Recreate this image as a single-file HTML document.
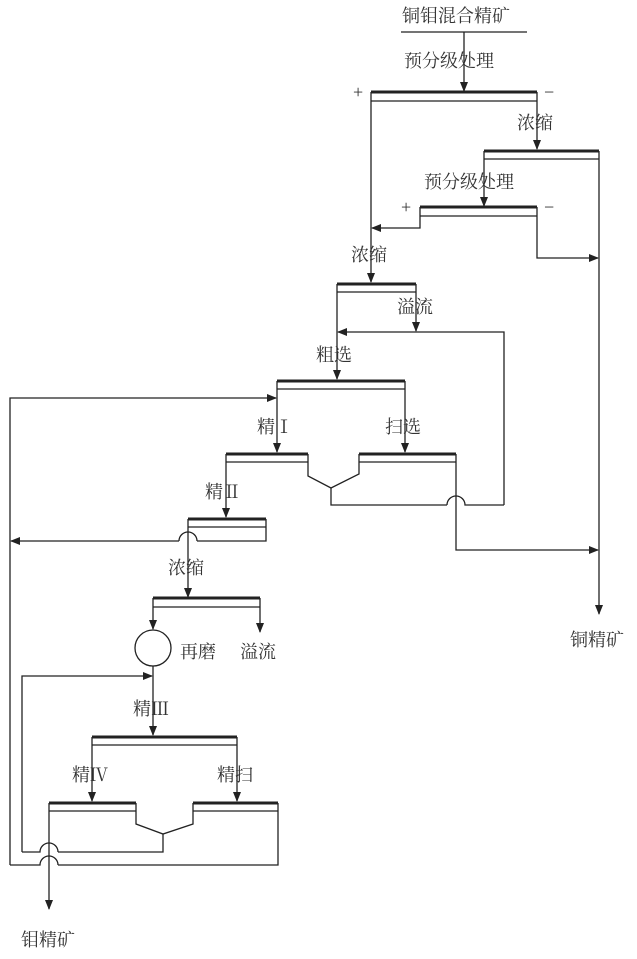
<!DOCTYPE html>
<html><head><meta charset="utf-8"><style>
html,body{margin:0;padding:0;background:#fff}
svg{display:block}
text{font-family:"Liberation Serif","Noto Serif CJK SC",serif;font-size:18px;fill:#333}
</style></head><body>
<svg width="637" height="959" viewBox="0 0 637 959">
<defs><marker id="a" markerWidth="10" markerHeight="8" refX="9" refY="4" orient="auto" markerUnits="userSpaceOnUse"><path d="M0,0 L10,4 L0,8 z" fill="#222"/></marker></defs>
<g stroke="#222" stroke-width="1.3" fill="none">
<line x1="401" y1="32" x2="527" y2="32"/>
<line x1="464" y1="32" x2="464" y2="91" marker-end="url(#a)"/>
<line x1="371" y1="92" x2="537" y2="92" stroke-width="3"/><line x1="371" y1="101" x2="537" y2="101"/>
<line x1="371" y1="92" x2="371" y2="282" marker-end="url(#a)"/>
<line x1="537" y1="92" x2="537" y2="149" marker-end="url(#a)"/>
<line x1="484" y1="151" x2="599" y2="151" stroke-width="3"/><line x1="484" y1="159" x2="599" y2="159"/>
<line x1="484" y1="151" x2="484" y2="206" marker-end="url(#a)"/>
<line x1="599" y1="151" x2="599" y2="614" marker-end="url(#a)"/>
<line x1="420" y1="207" x2="537" y2="207" stroke-width="3"/><line x1="420" y1="216" x2="537" y2="216"/>
<polyline points="420,207 420,228 372,228" marker-end="url(#a)"/>
<polyline points="537,207 537,258 598,258" marker-end="url(#a)"/>
<line x1="337" y1="284" x2="416" y2="284" stroke-width="3"/><line x1="337" y1="292" x2="416" y2="292"/>
<line x1="337" y1="284" x2="337" y2="379" marker-end="url(#a)"/>
<line x1="416" y1="284" x2="416" y2="331" marker-end="url(#a)"/>
<polyline points="504,505 504,332 338,332" marker-end="url(#a)"/>
<line x1="277" y1="381" x2="405" y2="381" stroke-width="3"/><line x1="277" y1="389" x2="405" y2="389"/>
<line x1="277" y1="381" x2="277" y2="452" marker-end="url(#a)"/>
<line x1="405" y1="381" x2="405" y2="452" marker-end="url(#a)"/>
<polyline points="10,865 10,398 276,398" marker-end="url(#a)"/>
<line x1="226" y1="454" x2="308" y2="454" stroke-width="3"/><line x1="226" y1="462" x2="308" y2="462"/>
<line x1="359" y1="454" x2="456" y2="454" stroke-width="3"/><line x1="359" y1="462" x2="456" y2="462"/>
<polyline points="308,454 308,476 331,488 359,474 359,454"/>
<polyline points="331,488 331,505 447,505"/>
<path d="M447,505 A9,9 0 0 1 465,505 L504,505"/>
<polyline points="456,454 456,550 598,550" marker-end="url(#a)"/>
<line x1="226" y1="454" x2="226" y2="517" marker-end="url(#a)"/>
<line x1="188" y1="519" x2="266" y2="519" stroke-width="3"/><line x1="188" y1="527" x2="266" y2="527"/>
<polyline points="266,519 266,541 197,541"/>
<path d="M197,541 A9,9 0 0 0 179,541"/>
<line x1="179" y1="541" x2="11" y2="541" marker-end="url(#a)"/>
<line x1="188" y1="519" x2="188" y2="597" marker-end="url(#a)"/>
<line x1="153" y1="598" x2="260" y2="598" stroke-width="3"/><line x1="153" y1="607" x2="260" y2="607"/>
<line x1="153" y1="598" x2="153" y2="629" marker-end="url(#a)"/>
<line x1="260" y1="598" x2="260" y2="632" marker-end="url(#a)"/>
<circle cx="153" cy="648" r="18"/>
<line x1="153" y1="666" x2="153" y2="735" marker-end="url(#a)"/>
<polyline points="22,852 22,676 152,676" marker-end="url(#a)"/>
<line x1="92" y1="737" x2="237" y2="737" stroke-width="3"/><line x1="92" y1="745" x2="237" y2="745"/>
<line x1="92" y1="737" x2="92" y2="801" marker-end="url(#a)"/>
<line x1="237" y1="737" x2="237" y2="801" marker-end="url(#a)"/>
<line x1="49" y1="803" x2="136" y2="803" stroke-width="3"/><line x1="49" y1="811" x2="136" y2="811"/>
<line x1="193" y1="803" x2="278" y2="803" stroke-width="3"/><line x1="193" y1="811" x2="278" y2="811"/>
<polyline points="136,803 136,824 163,834 193,824 193,803"/>
<polyline points="163,834 163,852 58,852"/>
<path d="M58,852 A9,9 0 0 0 40,852 L22,852"/>
<polyline points="278,803 278,865 58,865"/>
<path d="M58,865 A9,9 0 0 0 40,865 L10,865"/>
<line x1="49" y1="803" x2="49" y2="909" marker-end="url(#a)"/>
</g>
<text x="402" y="22">铜钼混合精矿</text>
<text x="404" y="67">预分级处理</text>
<text x="353" y="98" font-size="15">+</text>
<text x="544" y="98" font-size="15">−</text>
<text x="517" y="129">浓缩</text>
<text x="424" y="188">预分级处理</text>
<text x="401" y="213" font-size="15">+</text>
<text x="544" y="213" font-size="15">−</text>
<text x="351" y="261">浓缩</text>
<text x="397" y="313">溢流</text>
<text x="316" y="361">粗选</text>
<text x="257" y="433">精Ⅰ</text>
<text x="385" y="433">扫选</text>
<text x="205" y="498">精Ⅱ</text>
<text x="168" y="574">浓缩</text>
<text x="180" y="658">再磨</text>
<text x="240" y="658">溢流</text>
<text x="133" y="715">精Ⅲ</text>
<text x="72" y="781">精Ⅳ</text>
<text x="217" y="781">精扫</text>
<text x="570" y="646">铜精矿</text>
<text x="21" y="946">钼精矿</text>
</svg>
</body></html>
